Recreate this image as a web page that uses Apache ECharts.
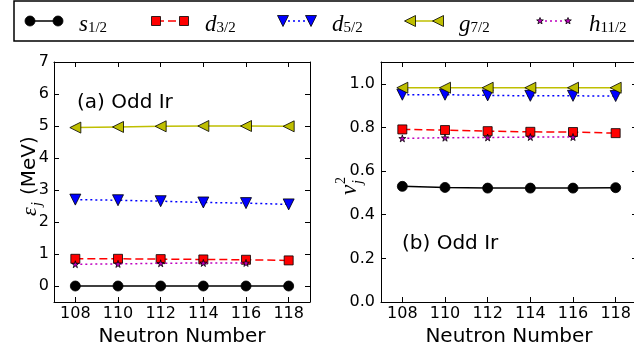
<!DOCTYPE html>
<html>
<head>
<meta charset="utf-8">
<script src="https://cdn.jsdelivr.net/npm/echarts@6/dist/echarts.min.js"></script>
<style>
  html, body { margin: 0; padding: 0; background: #fff; }
  #chart { width: 634px; height: 358px; }
</style>
</head>
<body>
<div id="chart"></div>
<script>
// Neutron numbers of the odd-Ir isotopes
const neutrons = [108, 110, 112, 114, 116, 118];
const hNeutrons = [108, 110, 112, 114, 116];

// Single-particle energies (MeV)
const eS12 = [0, 0, 0, 0, 0, 0];
const eD32 = [0.85, 0.85, 0.84, 0.83, 0.82, 0.80];
const eD52 = [2.70, 2.68, 2.65, 2.61, 2.59, 2.55];
const eG72 = [4.95, 4.97, 4.99, 5.00, 5.00, 4.99];
const eH112 = [0.68, 0.69, 0.71, 0.72, 0.72];

// Occupation probabilities v_j^2
const vS12 = [0.530, 0.525, 0.522, 0.522, 0.522, 0.524];
const vD32 = [0.791, 0.788, 0.783, 0.780, 0.779, 0.774];
const vD52 = [0.950, 0.950, 0.947, 0.945, 0.945, 0.944];
const vG72 = [0.982, 0.982, 0.982, 0.982, 0.982, 0.982];
const vH112 = [0.750, 0.753, 0.754, 0.756, 0.756];

// Tick labels
const xTicks = [108, 110, 112, 114, 116, 118];
const eTicks = [0, 1, 2, 3, 4, 5, 6, 7];
const vTicks = [0, 0.2, 0.4, 0.6, 0.8, 1.0];

// Orbital labels (letter + j subscript)
const orbitals = [
  { l: 's', j: '1/2' },
  { l: 'd', j: '3/2' },
  { l: 'd', j: '5/2' },
  { l: 'g', j: '7/2' },
  { l: 'h', j: '11/2' }
];

const STAR = 'path://M50,0 L61,35 L98,35 L68,57 L79,91 L50,70 L21,91 L32,57 L2,35 L39,35 Z';

// Line and marker style for each orbital
const styles = [
  { color: '#000000', fill: '#000000', type: 'solid', symbol: 'circle', size: 10, rotate: 0 },
  { color: '#ff0000', fill: '#ff0000', type: [8, 4], symbol: 'rect', size: 9, rotate: 0 },
  { color: '#0000ff', fill: '#0000ff', type: [2, 3], symbol: 'triangle', size: 11, rotate: 180 },
  { color: '#bfbf00', fill: '#bfbf00', type: 'solid', symbol: 'triangle', size: 11, rotate: 90 },
  { color: '#bf00bf', fill: '#bf00bf', type: [2, 3], symbol: STAR, size: 7, rotate: 0 }
];

function pairs(xs, ys) { return ys.map((y, i) => [xs[i], y]); }

function makeSeries(idx, xs, ys, xAxisIndex, yAxisIndex) {
  const s = styles[idx];
  return {
    type: 'line',
    xAxisIndex, yAxisIndex,
    data: pairs(xs, ys),
    symbol: s.symbol,
    symbolSize: s.size,
    symbolRotate: s.rotate,
    showAllSymbol: true,
    animation: false,
    lineStyle: { color: s.color, width: 1.5, type: s.type },
    itemStyle: { color: s.fill, borderColor: '#000', borderWidth: 0.8 },
    emphasis: { disabled: true },
    z: 2 + idx
  };
}

const FONT = 'DejaVu Sans';

function bottomAxis(gridIndex, showName) {
  return {
    type: 'value', gridIndex, min: 107, max: 119, position: 'bottom',
    name: showName ? 'Neutron Number' : '',
    nameLocation: 'middle', nameGap: 23,
    nameTextStyle: { fontFamily: FONT, fontSize: 20, color: '#000' },
    axisLine: { onZero: false, lineStyle: { color: '#000', width: 1 } },
    axisTick: { inside: true, length: 5, lineStyle: { color: '#000' }, customValues: xTicks },
    axisLabel: { fontFamily: FONT, fontSize: 16, color: '#000', margin: 4, customValues: xTicks },
    splitLine: { show: false }
  };
}
function topAxis(gridIndex) {
  return {
    type: 'value', gridIndex, min: 107, max: 119, position: 'top',
    axisLine: { onZero: false, lineStyle: { color: '#000', width: 1 } },
    axisTick: { inside: true, length: 5, lineStyle: { color: '#000' }, customValues: xTicks },
    axisLabel: { show: false },
    splitLine: { show: false }
  };
}
function leftAxis(gridIndex, min, max, ticks, fmt, margin) {
  return {
    type: 'value', gridIndex, min, max, position: 'left',
    axisLine: { onZero: false, lineStyle: { color: '#000', width: 1 } },
    axisTick: { inside: true, length: 5, lineStyle: { color: '#000' }, customValues: ticks },
    axisLabel: { fontFamily: FONT, fontSize: 16, color: '#000', margin, customValues: ticks, formatter: fmt },
    splitLine: { show: false }
  };
}
function rightAxis(gridIndex, min, max, ticks) {
  return {
    type: 'value', gridIndex, min, max, position: 'right',
    axisLine: { onZero: false, lineStyle: { color: '#000', width: 1 } },
    axisTick: { inside: true, length: 5, lineStyle: { color: '#000' }, customValues: ticks },
    axisLabel: { show: false },
    splitLine: { show: false }
  };
}

// Hand-drawn legend: two markers joined by the line style, then the label
function legendGraphics() {
  const els = [{
    type: 'rect', shape: { x: 14, y: 1, width: 640, height: 40 },
    style: { fill: '#fff', stroke: '#000', lineWidth: 1.5 }, z: 100
  }];
  const x0 = [30, 156, 283, 410, 540];
  const cy = 21;
  orbitals.forEach((o, i) => {
    const s = styles[i];
    const xa = x0[i], xb = x0[i] + 28;
    els.push({
      type: 'line', shape: { x1: xa, y1: cy, x2: xb, y2: cy },
      style: { stroke: s.color, lineWidth: 1.5, lineDash: s.type === 'solid' ? null : s.type }, z: 101
    });
    [xa, xb].forEach(x => els.push(markerGraphic(i, x, cy)));
    els.push({
      type: 'text', x: xb + 21, y: cy + 1, z: 102,
      style: {
        text: '{m|' + o.l + '}{j|' + o.j + '}',
        verticalAlign: 'middle',
        rich: {
          m: { fontFamily: 'Liberation Serif', fontStyle: 'italic', fontSize: 23, fill: '#000', verticalAlign: 'bottom', lineHeight: 28 },
          j: { fontFamily: 'Liberation Serif', fontSize: 15, fill: '#000', verticalAlign: 'bottom', lineHeight: 20 }
        }
      }
    });
  });
  return els;
}

function markerGraphic(i, x, y) {
  const s = styles[i];
  const style = { fill: s.fill, stroke: '#000', lineWidth: 0.8 };
  const r = s.size / 2;
  if (i === 0) return { type: 'circle', shape: { cx: x, cy: y, r }, style, z: 103 };
  if (i === 1) return { type: 'rect', shape: { x: x - r, y: y - r, width: s.size, height: s.size }, style, z: 103 };
  if (i === 2) return { type: 'polygon', shape: { points: [[x - r, y - r], [x + r, y - r], [x, y + r]] }, style, z: 103 };
  if (i === 3) return { type: 'polygon', shape: { points: [[x - r, y], [x + r, y - r], [x + r, y + r]] }, style, z: 103 };
  const pts = [];
  for (let k = 0; k < 10; k++) {
    const a = -Math.PI / 2 + k * Math.PI / 5;
    const rr = k % 2 === 0 ? r : r * 0.42;
    pts.push([x + rr * Math.cos(a), y + rr * Math.sin(a)]);
  }
  return { type: 'polygon', shape: { points: pts }, style, z: 103 };
}

const option = {
  backgroundColor: '#fff',
  animation: false,
  grid: [
    { left: 54, top: 62, width: 256, height: 240, containLabel: false, outerBoundsMode: 'none' },
    { left: 381, top: 62, width: 256, height: 240, containLabel: false, outerBoundsMode: 'none' }
  ],
  xAxis: [bottomAxis(0, true), topAxis(0), bottomAxis(1, true), topAxis(1)],
  yAxis: [
    leftAxis(0, -0.5, 7, eTicks, v => String(v), 5),
    rightAxis(0, -0.5, 7, eTicks),
    leftAxis(1, 0, 1.1, vTicks, v => v.toFixed(1), 6),
    rightAxis(1, 0, 1.1, vTicks)
  ],
  series: [
    makeSeries(0, neutrons, eS12, 0, 0),
    makeSeries(1, neutrons, eD32, 0, 0),
    makeSeries(2, neutrons, eD52, 0, 0),
    makeSeries(3, neutrons, eG72, 0, 0),
    makeSeries(4, hNeutrons, eH112, 0, 0),
    makeSeries(0, neutrons, vS12, 2, 2),
    makeSeries(1, neutrons, vD32, 2, 2),
    makeSeries(2, neutrons, vD52, 2, 2),
    makeSeries(3, neutrons, vG72, 2, 2),
    makeSeries(4, hNeutrons, vH112, 2, 2)
  ],
  graphic: [
    ...legendGraphics(),
    { type: 'text', x: 77, y: 103, style: { text: '(a) Odd Ir', fontFamily: FONT, fontSize: 20, fill: '#000', verticalAlign: 'middle' }, z: 50 },
    { type: 'text', x: 402, y: 244, style: { text: '(b) Odd Ir', fontFamily: FONT, fontSize: 20, fill: '#000', verticalAlign: 'middle' }, z: 50 },
    // y-axis title, left panel: epsilon_j (MeV)
    {
      type: 'group', x: 30, y: 216, rotation: Math.PI / 2, z: 50,
      children: [
        { type: 'text', x: 0, y: 0, style: { text: 'ε', fontFamily: 'Liberation Serif', fontStyle: 'italic', fontSize: 22, fill: '#000', verticalAlign: 'middle' } },
        { type: 'text', x: 10, y: 7, style: { text: 'j', fontFamily: 'Liberation Serif', fontStyle: 'italic', fontSize: 14, fill: '#000', verticalAlign: 'middle' } },
        { type: 'text', x: 21, y: 0, style: { text: '(MeV)', fontFamily: FONT, fontSize: 20, fill: '#000', verticalAlign: 'middle' } }
      ]
    },
    // y-axis title, right panel: v_j^2
    {
      type: 'group', x: 350, y: 195, rotation: Math.PI / 2, z: 50,
      children: [
        { type: 'text', x: 0, y: 0, style: { text: 'v', fontFamily: 'Liberation Serif', fontStyle: 'italic', fontSize: 23, fill: '#000', verticalAlign: 'middle' } },
        { type: 'text', x: 11, y: -9, style: { text: '2', fontFamily: 'Liberation Serif', fontSize: 14, fill: '#000', verticalAlign: 'middle' } },
        { type: 'text', x: 11, y: 8, style: { text: 'j', fontFamily: 'Liberation Serif', fontStyle: 'italic', fontSize: 14, fill: '#000', verticalAlign: 'middle' } }
      ]
    }
  ]
};

const chart = echarts.init(document.getElementById('chart'), null, { renderer: 'canvas' });
chart.setOption(option);
</script>
</body>
</html>
